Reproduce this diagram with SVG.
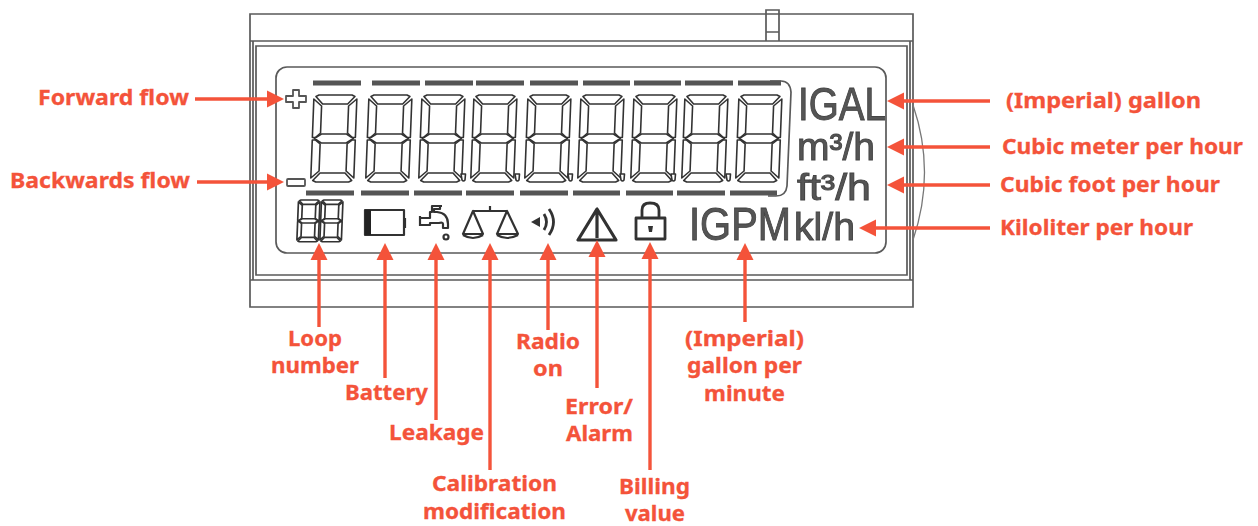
<svg xmlns="http://www.w3.org/2000/svg" width="1258" height="526" viewBox="0 0 1258 526">
<style>
.f{fill:none;stroke:#5a5a5a;stroke-width:1.7}
.seg{fill:#fff;stroke:#333;stroke-linejoin:round}
.bar{fill:#555;stroke:none}
.ic{fill:none;stroke:#333;stroke-width:2.2;stroke-linejoin:round}
.u{font-family:"Liberation Sans",Arial,sans-serif;fill:#555;stroke:#444;stroke-width:.9}
.l{font-family:"Noto Sans","DejaVu Sans",sans-serif;font-weight:700;font-size:21.5px;fill:#f4533a;stroke:#f4533a;stroke-width:.3}
.c{fill:none;stroke:#f4533a;stroke-width:3.4;marker-end:url(#a)}
.soft{filter:url(#b)}
</style>
<defs>
<filter id="b" x="-5%" y="-5%" width="110%" height="110%"><feGaussianBlur stdDeviation=".55"/></filter>
<marker id="a" markerUnits="userSpaceOnUse" markerWidth="17" markerHeight="18" refX="0" refY="8.5" orient="auto" viewBox="0 0 17 17"><path d="M0 0L17 8.5L0 17Z" fill="#f4533a"/></marker>
<g id="d" transform="skewX(-2.2)">
<path class="seg" d="M3 1.500L6 0H39L42 1.500L35 9H10Z"/>
<path class="seg" d="M1 4L9 11V38L4 42.500H1Z"/>
<path class="seg" d="M44 4L36 11V38L41 42.500H44Z"/>
<path class="seg" d="M3 43.500L10 39H35L42 43.500L35 48H10Z"/>
<path class="seg" d="M1 45H4L9 49V76L1 83Z"/>
<path class="seg" d="M44 45H41L36 49V76L44 83Z"/>
<path class="seg" d="M3 85.500L10 78H35L42 85.500L39 87H6Z"/>
</g>
<path id="p" class="seg" d="M0 0H4.500L4 6Q2.500 8 1 6Z"/>
</defs>

<g id="lcd" class="soft">
<path class="f" d="M250 14H913V307H250ZM250 41H913M250 280H913M253 41V280M910 41V280M256 46H907V275H256ZM766 41V10H779V41M766 32H779"/>
<path d="M913 105Q936 172 913 240" fill="none" stroke="#777" stroke-width="1.3"/>
<rect class="f" x="276" y="67" width="610" height="186" rx="11"/>
<path class="f" d="M770 81H781Q790 81 791 92L787 186Q786 196 776 196H768"/>
</g>

<g id="digits" class="soft" stroke-width="1.6">
<use href="#d" x="313" y="95"/><use href="#d" x="368" y="95"/><use href="#d" x="421" y="95"/><use href="#d" x="473" y="95"/><use href="#d" x="527" y="95"/><use href="#d" x="580" y="95"/><use href="#d" x="633" y="95"/><use href="#d" x="684" y="95"/><use href="#d" x="738" y="95"/>
<use href="#p" x="461" y="174"/><use href="#p" x="515" y="174"/><use href="#p" x="568" y="174"/><use href="#p" x="620" y="174"/><use href="#p" x="671" y="174"/><use href="#p" x="726" y="174"/>
<path class="bar" d="M313 80.500h48v5h-48zM372 80.500h48v5h-48zM425 80.500h48v5h-48zM476 80.500h48v5h-48zM530 80.500h48v5h-48zM583 80.500h47v5h-47zM634 80.500h47v5h-47zM685 80.500h48v5h-48zM738 80.500h43v5h-43zM306 190.500h48v5h-48zM361 190.500h48v5h-48zM414 190.500h48v5h-48zM466 190.500h48v5h-48zM520 190.500h48v5h-48zM573 190.500h47v5h-47zM626 190.500h47v5h-47zM677 190.500h48v5h-48zM730 190.500h47v5h-47z"/>
</g>

<g id="sign-plus" class="soft"><path class="ic" style="stroke:#555;stroke-width:1.8" d="M293 90H299V96H306V102H299V108H293V102H286V96H293Z"/></g>
<g id="sign-minus" class="soft"><rect class="ic" style="stroke:#555;stroke-width:1.8" x="287" y="179" width="18" height="7" rx="1"/></g>

<g id="icon-loop" class="soft" stroke-width="3.4">
<use href="#d" transform="translate(298 200) scale(.5 .48)"/>
<use href="#d" transform="translate(321 200) scale(.5 .48)"/>
</g>
<g id="icon-battery" class="soft"><rect class="ic" x="365" y="210" width="39" height="25"/><rect x="365" y="210" width="6" height="25" fill="#222"/><path class="ic" d="M405 218V228"/></g>
<g id="icon-leak" class="soft"><path class="ic" d="M420 216V226M420 218H430V212H432V206H440V209H434V212H437Q448 213 448 224V228H443V224Q443 222 439 223H430V225H420ZM432 206H442"/><circle class="ic" cx="446" cy="237" r="2.500"/></g>
<g id="icon-scale" class="soft"><path class="ic" d="M473 211H507M490 206V211M473 211L463 234H483ZM507 211L497 234H518ZM463 235Q473 241 483 235M497 235Q507 241 518 235"/></g>
<g id="icon-radio" class="soft"><path d="M531 222L540 217V227Z" fill="#333"/><path class="ic" style="stroke-width:2.800" d="M544 214Q549 222 544 230M549 209Q558 222 549 235"/></g>
<g id="icon-error" class="soft"><path class="ic" style="stroke-width:3.200" d="M597 209L578 240H616ZM597 212V238"/></g>
<g id="icon-lock" class="soft"><rect class="ic" style="stroke-width:2.800" x="636" y="218" width="29" height="21"/><path class="ic" style="stroke-width:2.800" d="M642 218V210Q642 203 650 203Q659 203 659 210V218"/><path d="M648 226h5l-1 6h-3z" fill="#333"/></g>

<g id="unit-igal" class="soft"><text class="u" x="798" y="120" font-size="46" textLength="88" lengthAdjust="spacingAndGlyphs">IGAL</text></g>
<g id="unit-m3h" class="soft"><text class="u" x="797" y="160" font-size="38" textLength="78" lengthAdjust="spacingAndGlyphs">m³/h</text></g>
<g id="unit-ft3h" class="soft"><text class="u" x="797" y="200" font-size="36" textLength="74" lengthAdjust="spacingAndGlyphs">ft³/h</text></g>
<g id="unit-igpm" class="soft"><text class="u" x="689" y="240" font-size="46" textLength="102" lengthAdjust="spacingAndGlyphs">IGPM</text></g>
<g id="unit-klh" class="soft"><text class="u" x="794" y="240" font-size="38" textLength="61" lengthAdjust="spacingAndGlyphs">kl/h</text></g>

<g id="connectors">
<path class="c" d="M195 99H267"/><path class="c" d="M197 182H267"/>
<path class="c" d="M990 101H904"/><path class="c" d="M990 147H904"/><path class="c" d="M990 185H904"/><path class="c" d="M990 228H876"/>
<path class="c" d="M319 327V260"/><path class="c" d="M385 378V260"/><path class="c" d="M436 420V260"/><path class="c" d="M490 470V260"/><path class="c" d="M548 330V260"/><path class="c" d="M597 388V257"/><path class="c" d="M650 470V259"/><path class="c" d="M745 322V260"/>
</g>

<g id="label-forward"><text class="l" x="38" y="105" textLength="151" lengthAdjust="spacingAndGlyphs">Forward flow</text></g>
<g id="label-backwards"><text class="l" x="10" y="188" textLength="180" lengthAdjust="spacingAndGlyphs">Backwards flow</text></g>
<g id="label-gallon"><text class="l" x="1006" y="108" textLength="195" lengthAdjust="spacingAndGlyphs">(Imperial) gallon</text></g>
<g id="label-m3"><text class="l" x="1002" y="154" textLength="241" lengthAdjust="spacingAndGlyphs">Cubic meter per hour</text></g>
<g id="label-ft3"><text class="l" x="1000" y="192" textLength="220" lengthAdjust="spacingAndGlyphs">Cubic foot per hour</text></g>
<g id="label-kl"><text class="l" x="1000" y="235" textLength="193" lengthAdjust="spacingAndGlyphs">Kiloliter per hour</text></g>
<g id="label-loop"><text class="l" x="288" y="346" textLength="54" lengthAdjust="spacingAndGlyphs">Loop</text><text class="l" x="271" y="373" textLength="88" lengthAdjust="spacingAndGlyphs">number</text></g>
<g id="label-battery"><text class="l" x="345" y="400" textLength="83" lengthAdjust="spacingAndGlyphs">Battery</text></g>
<g id="label-leakage"><text class="l" x="389" y="440" textLength="95" lengthAdjust="spacingAndGlyphs">Leakage</text></g>
<g id="label-calibration"><text class="l" x="432" y="491" textLength="125" lengthAdjust="spacingAndGlyphs">Calibration</text><text class="l" x="423" y="519" textLength="143" lengthAdjust="spacingAndGlyphs">modification</text></g>
<g id="label-radio"><text class="l" x="516" y="349" textLength="64" lengthAdjust="spacingAndGlyphs">Radio</text><text class="l" x="533" y="376" textLength="30" lengthAdjust="spacingAndGlyphs">on</text></g>
<g id="label-error"><text class="l" x="565" y="414" textLength="68" lengthAdjust="spacingAndGlyphs">Error/</text><text class="l" x="566" y="441" textLength="67" lengthAdjust="spacingAndGlyphs">Alarm</text></g>
<g id="label-billing"><text class="l" x="619" y="494" textLength="71" lengthAdjust="spacingAndGlyphs">Billing</text><text class="l" x="625" y="521" textLength="60" lengthAdjust="spacingAndGlyphs">value</text></g>
<g id="label-igpm"><text class="l" x="685" y="346" textLength="119" lengthAdjust="spacingAndGlyphs">(Imperial)</text><text class="l" x="687" y="373" textLength="115" lengthAdjust="spacingAndGlyphs">gallon per</text><text class="l" x="704" y="401" textLength="81" lengthAdjust="spacingAndGlyphs">minute</text></g>
</svg>
